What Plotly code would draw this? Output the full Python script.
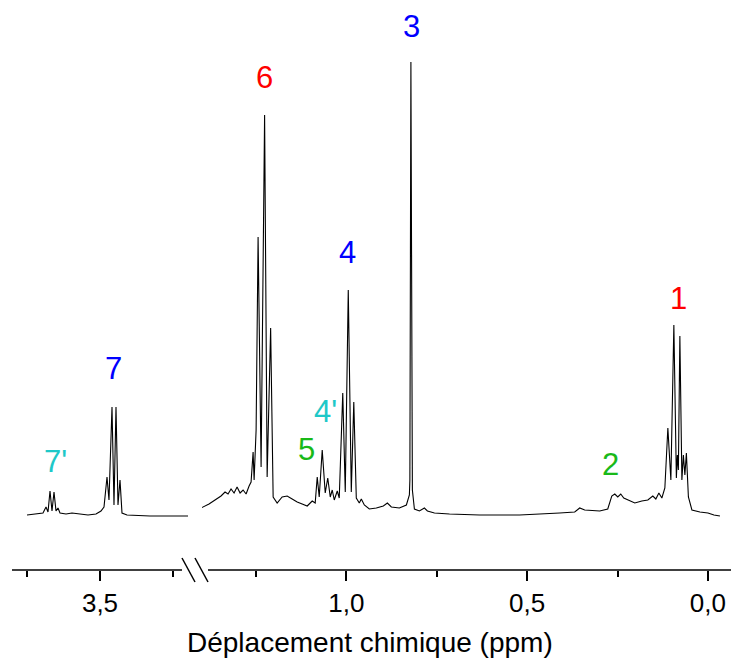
import plotly.graph_objects as go

# --- spectrum, segment around 3.5 ppm (ppm, intensity a.u.) ---
left_ppm = [3.750, 3.7226, 3.6952, 3.6849, 3.6781, 3.6712, 3.6644, 3.6575, 3.6507, 3.6438,
            3.6370, 3.6164, 3.5959, 3.5685, 3.5411, 3.5137, 3.4966, 3.4863, 3.4760, 3.4692,
            3.4589, 3.4521, 3.4452, 3.4384, 3.4315, 3.4247, 3.4075, 3.3288, 3.1986]
left_int = [2, 3, 4, 10, 5, 26, 6, 25, 6, 9,
            4, 3, 4, 3, 2, 3, 6, 10, 40, 17,
            110, 12, 110, 12, 37, 4, 2, 1, 1]

# --- spectrum, segment 1.4 .. 0 ppm ---
right_ppm = [1.4017, 1.3795, 1.3629, 1.3463, 1.3352, 1.3269, 1.3186, 1.3102, 1.3019, 1.2936,
             1.2853, 1.2770, 1.2687, 1.2632, 1.2576, 1.2548, 1.2493, 1.2438, 1.2355, 1.2258,
             1.2188, 1.2091, 1.2022, 1.1911, 1.1773, 1.1634, 1.1496, 1.1357, 1.1219, 1.1080,
             1.0942, 1.0859, 1.0803, 1.0748, 1.0665, 1.0582, 1.0512, 1.0443, 1.0388, 1.0332,
             1.0249, 1.0194, 1.0097, 1.0028, 0.9945, 0.9861, 0.9792, 0.9723, 0.9640, 0.9584,
             0.9501, 0.9363, 0.9169, 0.8975, 0.8864, 0.8753, 0.8532, 0.8338, 0.8255, 0.8241,
             0.8213, 0.8172, 0.8116, 0.7978, 0.7839, 0.7756, 0.7562, 0.7147, 0.6316, 0.5208,
             0.4100, 0.3684, 0.3546, 0.3407, 0.2992, 0.2770, 0.2659, 0.2576, 0.2493, 0.2410,
             0.2327, 0.2216, 0.2022, 0.1828, 0.1662, 0.1524, 0.1440, 0.1357, 0.1274, 0.1191,
             0.1108, 0.1025, 0.0942, 0.0873, 0.0845, 0.0817, 0.0776, 0.0720, 0.0679, 0.0637,
             0.0596, 0.0540, 0.0443, 0.0222, 0.0000, -0.0166, -0.0332]
right_int = [9, 13, 17, 21, 25, 23, 28, 24, 30, 24,
             27, 23, 31, 35, 65, 37, 87, 280, 50, 402,
             40, 189, 20, 14, 20, 21, 18, 15, 13, 11,
             16, 14, 40, 20, 67, 24, 39, 20, 27, 17,
             26, 19, 124, 25, 227, 25, 115, 19, 14, 18,
             12, 8, 9, 11, 14, 10, 9, 12, 22, 37,
             455, 27, 8, 6, 9, 6, 4, 3, 2, 2,
             4, 5, 9, 7, 6, 8, 21, 23, 20, 23,
             19, 17, 14, 16, 17, 21, 18, 24, 19, 29,
             89, 37, 192, 39, 62, 47, 181, 37, 62, 42,
             64, 20, 7, 5, 4, 2, 1]

# --- peak labels ---
left_labels = ["7'", "7"]
left_label_ppm = [3.6541, 3.4521]
left_label_int = [56, 149]
right_labels = ["6", "5", "4'", "4", "3", "2", "1"]
right_label_ppm = [1.2271, 1.1108, 1.0580, 0.9972, 0.8199, 0.2687, 0.0803]
right_label_int = [440, 68, 106, 265, 491, 53, 219]

label_colors = {"1": "#FF0000", "6": "#FF0000",
                "3": "#0000FF", "4": "#0000FF", "7": "#0000FF",
                "2": "#19B919", "5": "#19B919",
                "4'": "#1EC8C8", "7'": "#1EC8C8"}

# --- axis ticks ---
left_ticks = [3.5]
left_ticktext = ["3,5"]
left_minor = [3.75, 3.25]
right_ticks = [1.0, 0.5, 0.0]
right_ticktext = ["1,0", "0,5", "0,0"]
right_minor = [1.25, 0.75, 0.25]

# page is 739x661; the html body adds an 8px margin, so the figure is shifted by it
OFF = 8
W, H = 739 - OFF, 661 - OFF
BOTTOM = 570  # page y of the axis line
FONT = "Arial, Liberation Sans, sans-serif"


def px_x(p):
    # page x pixel -> paper fraction
    return (p - OFF) / W


def px_y(p):
    # page y pixel -> paper fraction
    return (BOTTOM - p) / (BOTTOM - OFF)


fig = go.Figure()
fig.add_trace(go.Scatter(x=left_ppm, y=left_int, mode="lines", xaxis="x", yaxis="y",
                         line=dict(color="black", width=1.1), showlegend=False, hoverinfo="skip"))
fig.add_trace(go.Scatter(x=right_ppm, y=right_int, mode="lines", xaxis="x2", yaxis="y",
                         line=dict(color="black", width=1.1), showlegend=False, hoverinfo="skip"))

annotations = []
for t, xv, yv in zip(left_labels, left_label_ppm, left_label_int):
    annotations.append(dict(text=t, x=xv, y=yv, xref="x", yref="y", showarrow=False,
                            font=dict(size=31, color=label_colors[t], family=FONT)))
for t, xv, yv in zip(right_labels, right_label_ppm, right_label_int):
    annotations.append(dict(text=t, x=xv, y=yv, xref="x2", yref="y", showarrow=False,
                            font=dict(size=31, color=label_colors[t], family=FONT)))
annotations.append(dict(text="Déplacement chimique (ppm)", x=px_x(370), y=px_y(642),
                        xref="paper", yref="paper", showarrow=False, yanchor="middle",
                        font=dict(size=28, color="black", family=FONT)))

line_style = dict(color="black", width=1.5)
shapes = [
    dict(type="line", xref="paper", yref="paper", x0=px_x(12), x1=px_x(182), y0=0, y1=0, line=line_style),
    dict(type="line", xref="paper", yref="paper", x0=px_x(208), x1=1, y0=0, y1=0, line=line_style),
    dict(type="line", xref="paper", yref="paper", x0=px_x(182), x1=px_x(195), y0=px_y(558), y1=px_y(582), line=line_style),
    dict(type="line", xref="paper", yref="paper", x0=px_x(195), x1=px_x(208), y0=px_y(558), y1=px_y(582), line=line_style),
]

axis_common = dict(showline=False, showgrid=False, zeroline=False, ticks="outside", ticklen=10,
                   tickwidth=1.5, tickcolor="black", tickmode="array",
                   tickfont=dict(size=26, color="black", family=FONT), anchor="y")

fig.update_layout(
    width=W, height=H,
    margin=dict(l=0, r=0, t=0, b=H - (BOTTOM - OFF)),
    paper_bgcolor="white", plot_bgcolor="white",
    xaxis=dict(domain=[px_x(12), px_x(188)], range=[3.8014, 3.1986],
               tickvals=left_ticks, ticktext=left_ticktext,
               minor=dict(tickmode="array", tickvals=left_minor, ticks="outside", ticklen=6,
                          tickwidth=1.5, tickcolor="black"),
               **axis_common),
    xaxis2=dict(domain=[px_x(202), 1], range=[1.3989, -0.0859],
                tickvals=right_ticks, ticktext=right_ticktext,
                minor=dict(tickmode="array", tickvals=right_minor, ticks="outside", ticklen=6,
                           tickwidth=1.5, tickcolor="black"),
                **axis_common),
    # y range spans the plot area: axis line (page y 570) to figure top (page y 8)
    yaxis=dict(range=[-53, 517 - OFF], visible=False),
    annotations=annotations,
    shapes=shapes,
)

fig.write_html("out.html")
